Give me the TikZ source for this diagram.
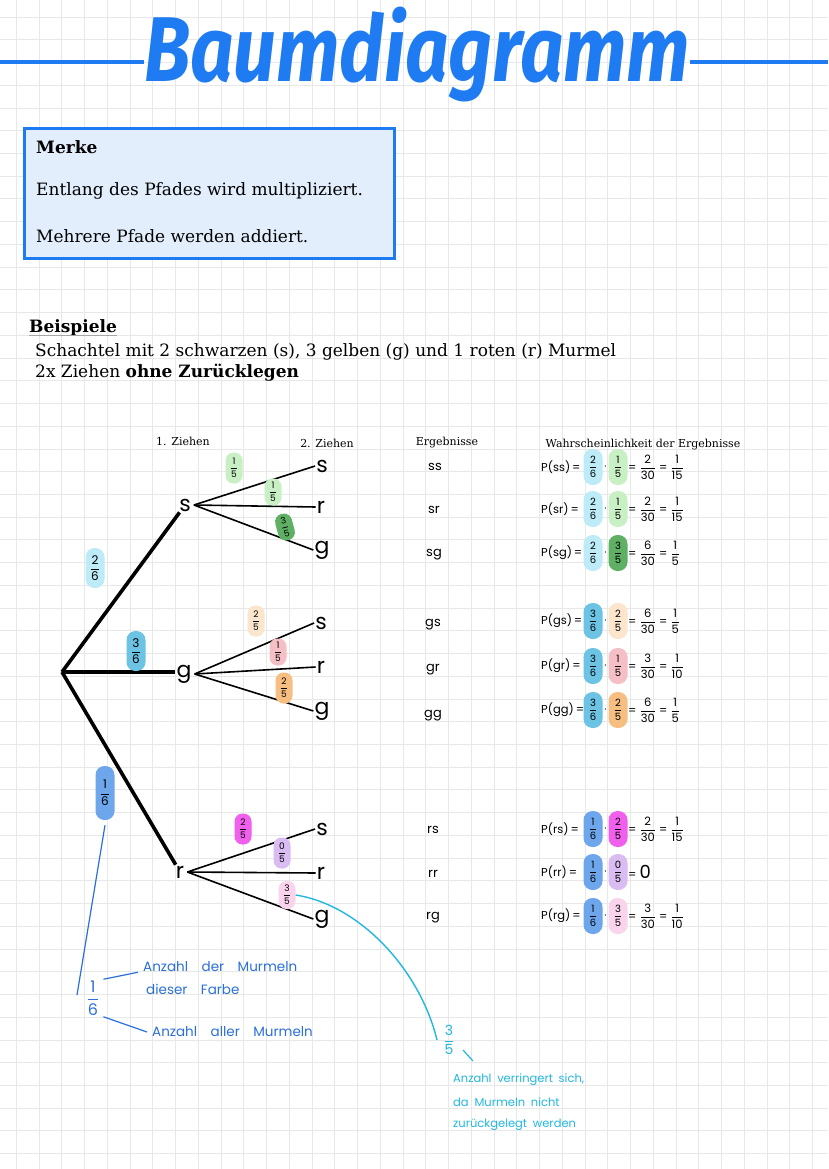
\documentclass[tikz,border=0pt]{standalone}
\usepackage{amsmath}
\usepackage{fontspec}
\setmainfont{DejaVu Serif}
\newfontfamily\hand{Poppins}
\newfontfamily\titlefont{Fira Sans}
\definecolor{titleblue}{HTML}{1E7BF2}
\definecolor{boxfill}{HTML}{E2EEFC}
\definecolor{gridc}{HTML}{E8E8E8}
\definecolor{cyanL}{HTML}{BDEBF8}
\definecolor{greenL}{HTML}{C9F0C4}
\definecolor{greenD}{HTML}{5FAF65}
\definecolor{blueM}{HTML}{6CC3E3}
\definecolor{blueS}{HTML}{6EA6EC}
\definecolor{peach}{HTML}{FBE5CC}
\definecolor{pinkM}{HTML}{F5BFC6}
\definecolor{orangeM}{HTML}{F7BE82}
\definecolor{magentaM}{HTML}{F060EC}
\definecolor{lavender}{HTML}{D9BCF2}
\definecolor{pinkL}{HTML}{F9D4EC}
\definecolor{annblue}{HTML}{2A6FDB}
\definecolor{anncyan}{HTML}{22B8E0}
\newcommand\hfr[2]{$\genfrac{}{}{0.8pt}{0}{\hbox{#1}}{\hbox{#2}}$}
\tikzset{
  body/.style={anchor=west, inner sep=0pt, font=\fontsize{17}{20}\selectfont},
  bodyb/.style={body, font=\bfseries\fontsize{17}{20}\selectfont},
  head/.style={inner sep=0pt, font=\fontsize{11}{13}\selectfont},
  letter/.style={inner sep=1pt, font=\hand\fontsize{22}{24}\selectfont},
  res/.style={inner sep=0pt, font=\hand\fontsize{13}{15}\selectfont},
  pill/.style={rounded corners=8pt, inner sep=1pt, minimum width=17pt, minimum height=31pt, font=\hand\fontsize{9}{10}\selectfont},
  bigpill/.style={rounded corners=9pt, inner sep=1pt, minimum width=19pt, minimum height=40pt, font=\hand\fontsize{12}{13}\selectfont},
  ppill/.style={rounded corners=9pt, inner sep=1pt, minimum width=19pt, minimum height=36pt, font=\hand\fontsize{10}{11}\selectfont},
  prob/.style={inner sep=0pt, font=\hand\fontsize{11.5}{13}\selectfont},
  br1/.style={line width=3.6pt},
  br2/.style={line width=1.6pt},
  note/.style={anchor=west, inner sep=0pt, font=\hand\fontsize{13.5}{15}\selectfont},
  cnote/.style={note, text=anncyan, font=\hand\fontsize{11.5}{13}\selectfont},
}
\newcommand\prow[8]{%
  \node[prob, anchor=west] (P#1) at (541,#2) {#3\,=};
  \node[ppill, fill=#4] (A#1) at (593,#2) {#5};
  \node[prob] (D#1) at (605.5,#2) {$\cdot$};
  \node[ppill, fill=#6] (B#1) at (618,#2) {#7};
  \node[prob, anchor=west] (R#1) at (628,#2) {#8};
}
\begin{document}
\begin{tikzpicture}[x=1pt,y=-1pt]
\useasboundingbox (0,0) rectangle (828,1169);
\fill[white] (0,0) rectangle (828,1169);
% grid
\foreach \i in {0,...,36} \draw[gridc, line width=0.9pt] ({16.3+\i*22.75},0) -- ++(0,1169);
\foreach \j in {0,...,51} \draw[gridc, line width=0.9pt] (0,{17.1+\j*22.73}) -- ++(828,0);
% title
\node[anchor=base, inner sep=0pt, text=titleblue, xscale=0.95, yscale=1.15, transform shape, font=\titlefont\bfseries\itshape\fontsize{80}{82}\selectfont] (title) at (417,82) {Baumdiagramm};
\coordinate (tl) at (0,62);
\coordinate (tr) at (828,62);
\draw[titleblue, line width=4pt] (tl) -- (tl -| title.west);
\draw[titleblue, line width=4pt] (title.east |- tr) -- (tr);
% Merke box
\node[draw=titleblue, line width=3pt, fill=boxfill, minimum width=370pt, minimum height=130pt, anchor=north west, inner sep=0pt] (merkebox) at (23,127) {};
\node[bodyb] (merke) at (36,147) {Merke};
\node[body] (m1) at (36,191) {Entlang des Pfades wird multipliziert.};
\node[body] (m2) at (36,236) {Mehrere Pfade werden addiert.};
% Beispiele
\node[bodyb] (bsp) at (29,328) {Beispiele};
\draw[black!35, line width=1.5pt] ([yshift=1pt]bsp.south west) -- ([yshift=1pt]bsp.south east);
\node[body] (b1) at (35,352) {Schachtel mit 2 schwarzen (s), 3 gelben (g) und 1 roten (r) Murmel};
\node[body] (b2) at (35,373) {2x Ziehen \textbf{ohne Zurücklegen}};
% headers
\node[head] (h1) at (183,441) {1. Ziehen};
\node[head] (h2) at (327,443) {2. Ziehen};
\node[head] (h3) at (447,443) {Ergebnisse};
\node[head] (h4) at (643,445) {Wahrscheinlichkeit der Ergebnisse};
% tree
\coordinate (root) at (62,672);
\node[letter] (s1) at (185,505) {s};
\node[letter] (g1) at (184,674) {g};
\node[letter] (r1) at (180,872) {r};
\node[letter] (ss2) at (322,466) {s};
\node[letter] (sr2) at (321,507) {r};
\node[letter] (sg2) at (322,550) {g};
\node[letter] (gs2) at (321,623) {s};
\node[letter] (gr2) at (321,667) {r};
\node[letter] (gg2) at (322,711) {g};
\node[letter] (rs2) at (322,829) {s};
\node[letter] (rr2) at (321,873) {r};
\node[letter] (rg2) at (322,919) {g};
\draw[br1] (root) -- (s1);
\draw[br1] (root) -- (root -| g1.west);
\draw[br1] (root) -- (r1);
\foreach \a/\b in {s1/ss2, s1/sr2, s1/sg2, g1/gs2, g1/gr2, g1/gg2, r1/rs2, r1/rr2, r1/rg2}
  \draw[br2] ([xshift=2pt]\a.east) -- (\b.west);
% tree fraction labels
\node[bigpill, fill=cyanL] (fs) at (95,568) {\hfr{2}{6}};
\node[bigpill, fill=blueM] (fg) at (136,651) {\hfr{3}{6}};
\node[bigpill, fill=blueS, minimum height=54pt] (fr) at (105,793) {\hfr{1}{6}};
\node[pill, fill=greenL] (fss) at (234,468) {\hfr{1}{5}};
\node[pill, fill=greenL, minimum height=27pt] (fsr) at (273,492) {\hfr{1}{5}};
\node[pill, fill=greenD, minimum height=27pt, rotate=15] (fsg) at (285,527) {\hfr{3}{5}};
\node[pill, fill=peach] (fgs) at (256,621) {\hfr{2}{5}};
\node[pill, fill=pinkM, minimum height=27pt] (fgr) at (278,652) {\hfr{1}{5}};
\node[pill, fill=orangeM] (fgg) at (284,688) {\hfr{2}{5}};
\node[pill, fill=magentaM] (frs) at (243,829) {\hfr{2}{5}};
\node[pill, fill=lavender] (frr) at (282,853) {\hfr{0}{5}};
\node[pill, fill=pinkL, minimum height=28pt] (frg) at (287,895) {\hfr{3}{5}};
% Ergebnisse
\node[res] (e1) at (435,467) {ss};
\node[res] (e2) at (434,510) {sr};
\node[res] (e3) at (434,555) {sg};
\node[res] (e4) at (433,625) {gs};
\node[res] (e5) at (433,670) {gr};
\node[res] (e6) at (433,716) {gg};
\node[res] (e7) at (433,830) {rs};
\node[res] (e8) at (433,874) {rr};
\node[res] (e9) at (433,918) {rg};
% probabilities
\prow{1}{467}{P(ss)}{cyanL}{\hfr{2}{6}}{greenL}{\hfr{1}{5}}{= \hfr{2}{30} = \hfr{1}{15}}
\prow{2}{509}{P(sr)}{cyanL}{\hfr{2}{6}}{greenL}{\hfr{1}{5}}{= \hfr{2}{30} = \hfr{1}{15}}
\prow{3}{553}{P(sg)}{cyanL}{\hfr{2}{6}}{greenD}{\hfr{3}{5}}{= \hfr{6}{30} = \hfr{1}{5}}
\prow{4}{621}{P(gs)}{blueM}{\hfr{3}{6}}{peach}{\hfr{2}{5}}{= \hfr{6}{30} = \hfr{1}{5}}
\prow{5}{666}{P(gr)}{blueM}{\hfr{3}{6}}{pinkM}{\hfr{1}{5}}{= \hfr{3}{30} = \hfr{1}{10}}
\prow{6}{710}{P(gg)}{blueM}{\hfr{3}{6}}{orangeM}{\hfr{2}{5}}{= \hfr{6}{30} = \hfr{1}{5}}
\prow{7}{829}{P(rs)}{blueS}{\hfr{1}{6}}{magentaM}{\hfr{2}{5}}{= \hfr{2}{30} = \hfr{1}{15}}
\prow{8}{872}{P(rr)}{blueS}{\hfr{1}{6}}{lavender}{\hfr{0}{5}}{= {\fontsize{18}{20}\selectfont 0}}
\prow{9}{916}{P(rg)}{blueS}{\hfr{1}{6}}{pinkL}{\hfr{3}{5}}{= \hfr{3}{30} = \hfr{1}{10}}
% blue annotation
\coordinate (c16) at (77,995);
\draw[annblue, line width=1.2pt] ([yshift=-5pt]fr.south) -- (c16);
\node[inner sep=1pt, text=annblue, font=\hand\fontsize{16}{17}\selectfont] (an16) at (93,998) {\hfr{1}{6}};
\node[note, text=annblue] (t1) at (143,967) {Anzahl\quad der\quad Murmeln};
\node[note, text=annblue] (t2) at (146,989) {dieser\quad Farbe};
\node[note, text=annblue] (t3) at (152,1032) {Anzahl\quad aller\quad Murmeln};
\draw[annblue, line width=1.2pt] ([xshift=3pt]an16.north east) -- ([xshift=-5pt]t1.south west);
\draw[annblue, line width=1.2pt] ([xshift=3pt]an16.south east) -- ([xshift=-5pt]t3.west);
% cyan annotation
\coordinate (c35) at (437,1040);
\draw[anncyan, line width=1.4pt] (frg.east) .. controls (360,905) and (420,970) .. (c35);
\node[inner sep=1pt, text=anncyan, font=\hand\fontsize{14}{15}\selectfont] (an35) at (449,1040) {\hfr{3}{5}};
\coordinate (k1) at (463,1050);
\coordinate (k2) at (473,1061);
\draw[anncyan, line width=1.2pt] (k1) -- (k2);
\node[cnote] (t4) at (453,1080) {Anzahl\enspace verringert\enspace sich,};
\node[cnote] (t5) at (453,1102) {da\enspace Murmeln\enspace nicht};
\node[cnote] (t6) at (453,1125) {zurückgelegt\enspace werden};
\end{tikzpicture}
\end{document}
